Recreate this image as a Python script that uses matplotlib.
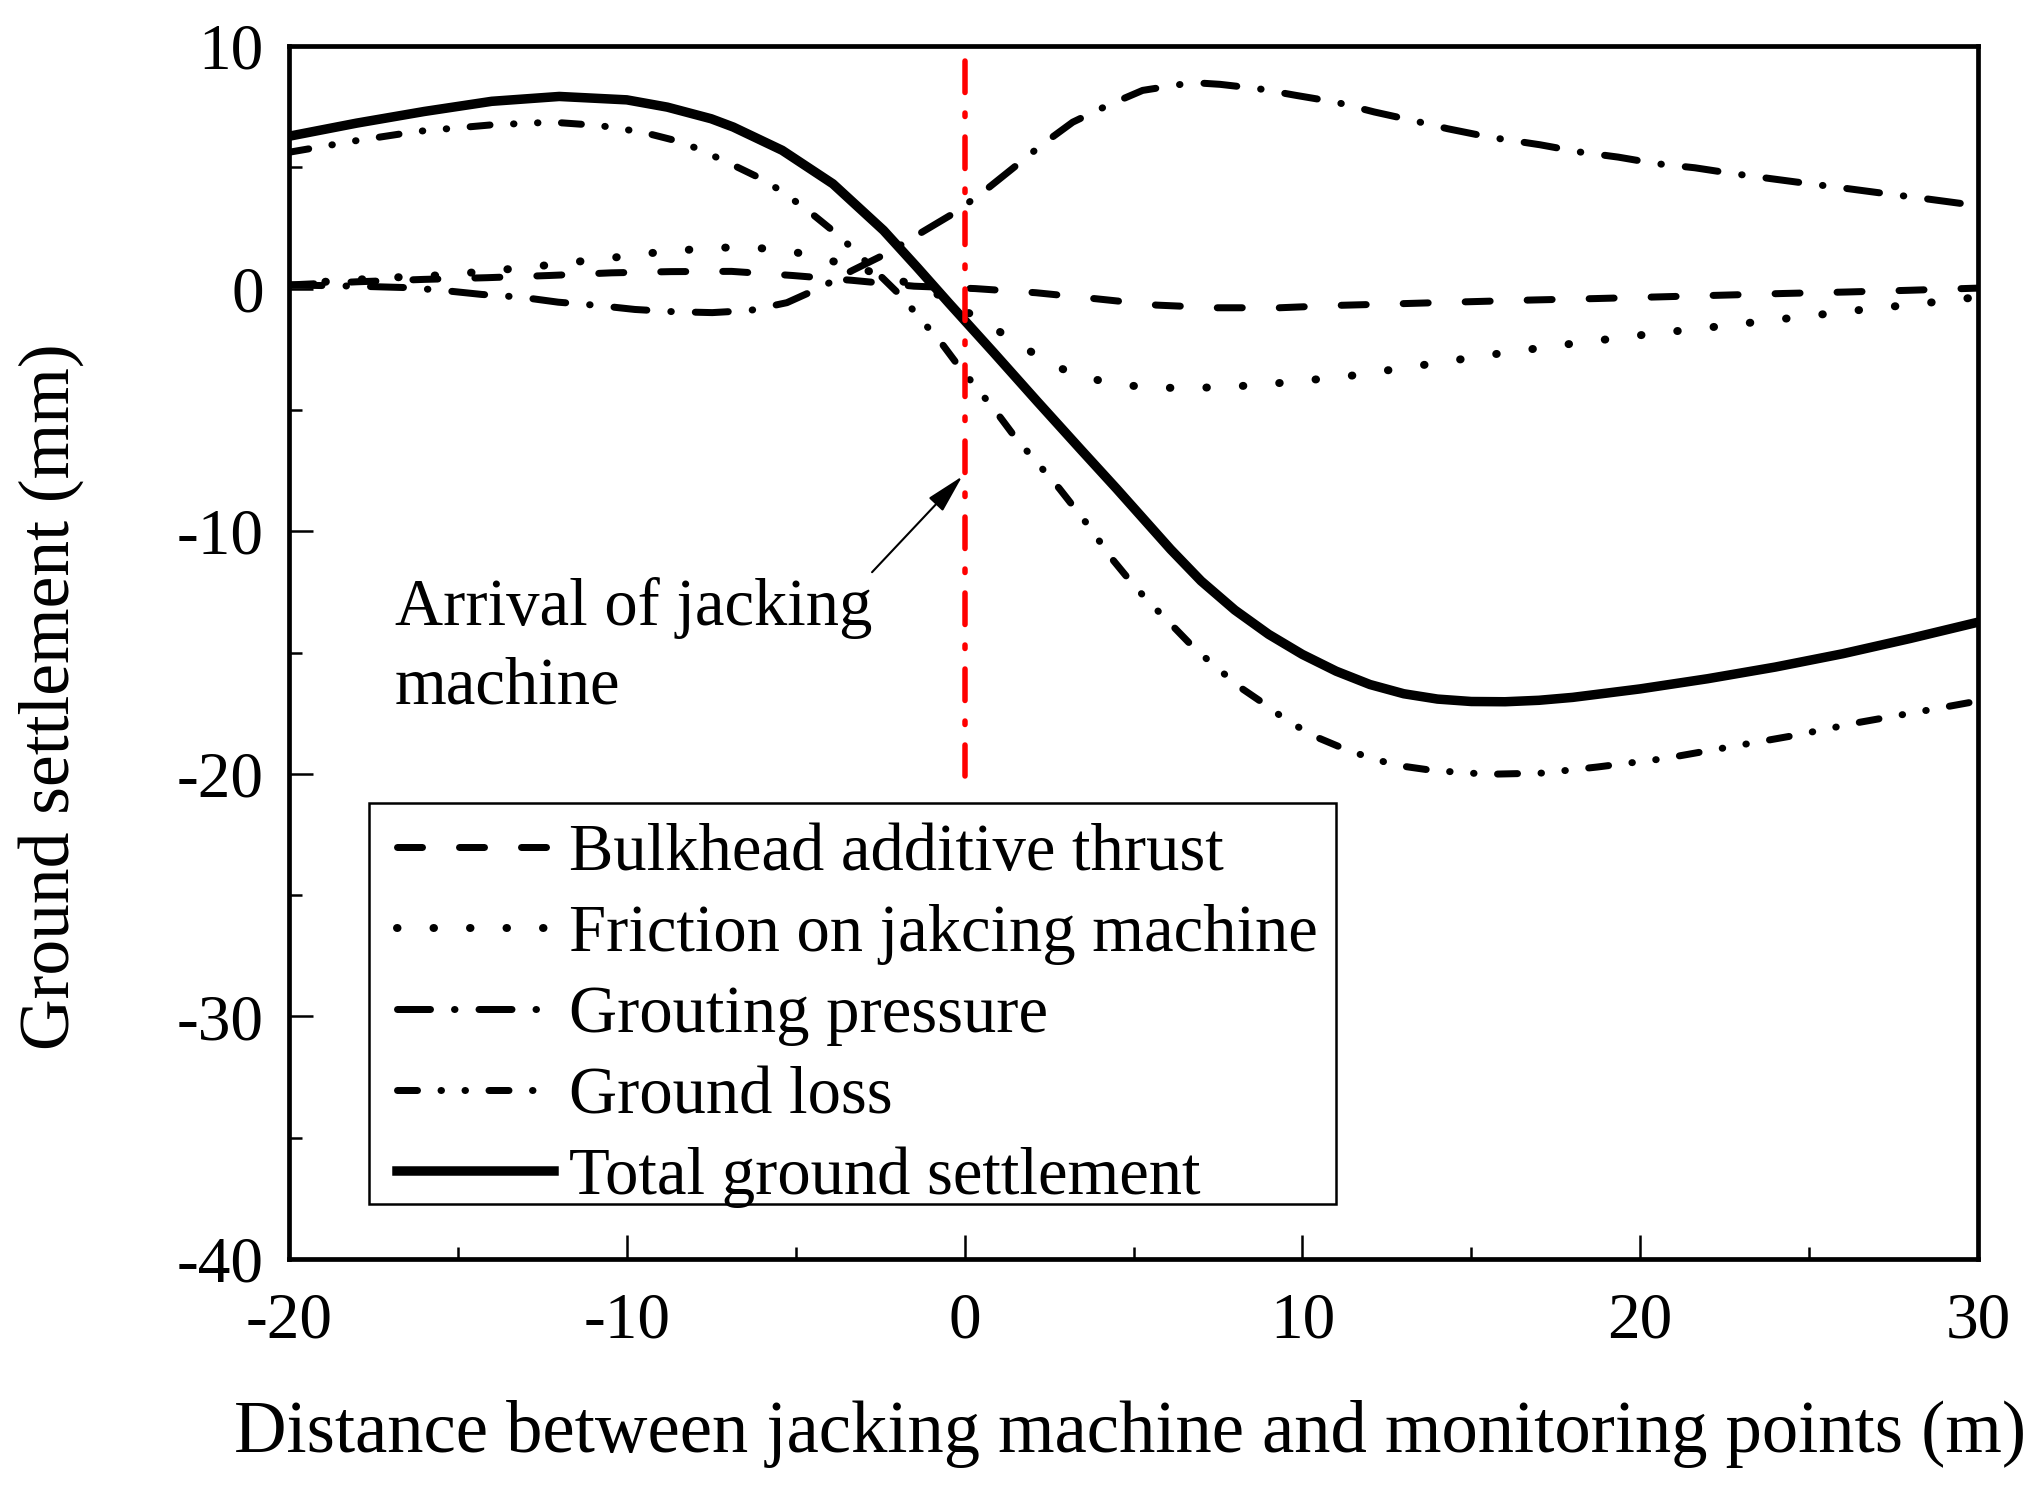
import matplotlib
matplotlib.use('Agg')
import matplotlib.pyplot as plt
from matplotlib.ticker import MultipleLocator
from matplotlib.patches import Rectangle

plt.rcParams['font.family'] = ['Liberation Serif', 'DejaVu Serif']
plt.rcParams['axes.unicode_minus'] = False
plt.rcParams['lines.scale_dashes'] = False

# ---------------- data ----------------
x_bh = [-20, -18, -16, -14.13, -12.3, -10.45, -8.7, -6.9, -5.09, -3.32, -1.5, 0.32, 2.11,
        3.9, 5.68, 7.48, 9.32, 11.09, 12.96, 14.7, 16.8, 18.7, 20.6, 22.45, 24.28, 26.12, 27.95, 30]
y_bh = [0.15, 0.28, 0.38, 0.45, 0.54, 0.65, 0.7, 0.71, 0.54, 0.34, 0.1, 0.0, -0.17,
        -0.42, -0.68, -0.79, -0.79, -0.69, -0.62, -0.55, -0.47, -0.41, -0.34, -0.27, -0.2, -0.14, -0.07, 0.02]

x_fr = [-20, -19.3, -18.25, -17.16, -16.08, -14.99, -13.9, -12.82, -11.73, -10.65, -9.55, -8.46,
        -7.36, -6.27, -5.22, -4.18, -3.15, -2.09, -1.01, 0.83, 1.74, 2.68, 3.72, 4.77, 5.88, 6.94,
        8.05, 9.12, 11.3, 13.48, 15.66, 17.76, 19.94, 22.12, 24.29, 26.45, 28.62, 30]
y_fr = [0.15, 0.25, 0.34, 0.45, 0.5, 0.61, 0.75, 0.89, 1.07, 1.23, 1.43, 1.57,
        1.69, 1.69, 1.57, 1.23, 0.85, 0.41, -0.07, -1.59, -2.41, -3.21, -3.71, -3.99, -4.09, -4.09,
        -4.03, -3.92, -3.62, -3.17, -2.71, -2.31, -1.93, -1.59, -1.24, -0.89, -0.57, -0.35]

x_gp = [-20, -18, -16.5, -15.48, -14.3, -13.15, -12.03, -10.89, -9.76, -8.65, -7.47, -6.35,
        -5.26, -4.27, -3.32, -2.29, -1.34, -0.34, 0.55, 1.41, 2.26, 3.2, 4.23, 5.27, 6.41, 7.0,
        7.56, 8.7, 9.83, 10.98, 12.13, 13.27, 14.3, 15.55, 17.03, 18.21, 19.35, 20.48, 21.62,
        22.75, 23.88, 25.02, 26.15, 27.29, 28.42, 29.55, 30]
y_gp = [0.15, 0.1, 0.04, -0.07, -0.24, -0.35, -0.56, -0.69, -0.86, -0.95, -0.99, -0.9,
        -0.58, 0.04, 0.75, 1.46, 2.26, 3.09, 3.98, 4.94, 5.9, 6.86, 7.55, 8.17, 8.42, 8.47,
        8.42, 8.24, 7.96, 7.69, 7.28, 6.93, 6.59, 6.24, 5.93, 5.63, 5.42, 5.15, 4.98,
        4.74, 4.53, 4.32, 4.12, 3.91, 3.71, 3.5, 3.42]

x_gl = [-20, -18, -16.2, -14, -12.2, -10.8, -9.54, -8.58, -7.9, -6.94, -6.02, -5.38, -4.56,
        -3.79, -3.28, -2.54, -1.8, -1.36, -0.71, -0.19, 0.3, 0.94, 1.53, 2.0, 2.81, 3.62, 4.4,
        4.89, 5.39, 6.08, 6.77, 7.31, 8.15, 8.94, 9.53, 10.42, 11.36, 12.1, 12.79, 13.85, 15.48,
        17.1, 18.73, 20.68, 22.62, 24.57, 26.52, 28.46, 30]
y_gl = [5.62, 6.1, 6.48, 6.75, 6.86, 6.72, 6.45, 6.11, 5.77, 5.15, 4.53, 3.98, 3.13,
        2.26, 1.6, 0.59, -0.42, -1.17, -2.2, -3.17, -3.99, -5.09, -6.19, -6.94, -8.25, -9.69, -11.2,
        -12.03, -12.82, -13.79, -14.78, -15.44, -16.43, -17.18, -17.8, -18.49, -19.04, -19.38, -19.65, -19.86, -20.02,
        -19.97, -19.72, -19.38, -18.9, -18.42, -17.87, -17.39, -17.0]

x_tot = [-20, -18, -16, -14, -12, -10, -8.8, -7.5, -6.85, -5.4, -3.9, -2.4, -1.4, -0.45, 0.85,
         2.15, 3.45, 4.5, 5.3, 6.1, 7.0, 8.0, 9.0, 10.0, 11.0, 12.0, 13.0, 14.0, 15.0, 16.0, 17.0,
         18.0, 20.0, 22.0, 24.0, 26.0, 28.0, 30.0]
y_tot = [6.28, 6.82, 7.3, 7.72, 7.92, 7.78, 7.48, 7.0, 6.66, 5.7, 4.32, 2.4, 0.87, -0.62, -2.62,
         -4.65, -6.65, -8.25, -9.5, -10.75, -12.05, -13.25, -14.25, -15.08, -15.77, -16.32, -16.7,
         -16.92, -17.02, -17.03, -16.97, -16.85, -16.5, -16.08, -15.6, -15.05, -14.42, -13.75]

labels = ['Bulkhead additive thrust', 'Friction on jakcing machine', 'Grouting pressure',
          'Ground loss', 'Total ground settlement']

x_arrival = [0, 0]
y_arrival = [9.4, -20.1]

W, H = 2043, 1487


def px(v):
    return v * 0.72  # pixels -> points at 100 dpi


fig = plt.figure(figsize=(W / 100, H / 100), dpi=100)
ax = fig.add_axes([289 / W, 1 - 1259 / H, (1978 - 289) / W, (1259 - 46) / H])

lw = px(7)
ax.plot(x_bh, y_bh, color='k', lw=lw, dashes=(px(25), px(37)), dash_capstyle='round', label=labels[0])
ax.plot(x_fr, y_fr, color='k', lw=px(8), dashes=(px(0.5), px(36)), dash_capstyle='round', label=labels[1])
ax.plot(x_gp, y_gp, color='k', lw=lw, dashes=(px(33), px(24), px(0.5), px(24)),
        dash_capstyle='round', label=labels[2])
ax.plot(x_gl, y_gl, color='k', lw=lw, dashes=(px(20), px(23.5), px(0.5), px(23.5), px(0.5), px(23.5)),
        dash_capstyle='round', label=labels[3])
ax.plot(x_tot, y_tot, color='k', lw=px(9.5), label=labels[4])

ax.plot(x_arrival, y_arrival, color='red', lw=px(5.5), dashes=(px(31.5), px(20.5), px(3.5), px(20.5)),
        dash_capstyle='round', zorder=5)

ax.set_xlim(-20, 30)
ax.set_ylim(-40, 10)
ax.xaxis.set_major_locator(MultipleLocator(10))
ax.xaxis.set_minor_locator(MultipleLocator(5))
ax.yaxis.set_major_locator(MultipleLocator(10))
ax.yaxis.set_minor_locator(MultipleLocator(5))
ax.tick_params(which='both', direction='in', top=False, right=False, width=1.8)
ax.tick_params(which='major', length=17, labelsize=47)
ax.tick_params(which='minor', length=9)
ax.tick_params(axis='x', which='major', pad=24)
ax.tick_params(axis='y', which='major', pad=18)
for s in ax.spines.values():
    s.set_linewidth(3.4)

ax.text(-16.87, -13.88, 'Arrival of jacking', fontsize=48, ha='left', va='baseline')
ax.text(-16.87, -17.1, 'machine', fontsize=48, ha='left', va='baseline')
ax.annotate('', xy=(-0.07, -7.74), xytext=(-2.74, -11.69),
            arrowprops=dict(arrowstyle='-|>,head_length=0.6,head_width=0.15', lw=1.5, color='k',
                            shrinkA=0, shrinkB=0, mutation_scale=40))

leg = ax.legend(loc='upper left', bbox_to_anchor=(397 / W, 1 - 823 / H), bbox_transform=fig.transFigure,
                fontsize=48, frameon=False, handlelength=2.35, handletextpad=0.23,
                labelspacing=0.3, borderpad=0, borderaxespad=0)
fig.add_artist(Rectangle((369 / W, 1 - 1204 / H), (1336 - 369) / W, (1204 - 803) / H,
                         transform=fig.transFigure, fill=False, lw=1.8, ec='k'))

fig.text(51 / W, 1 - 697 / H, 'Ground settlement (mm)', rotation=90, ha='center', va='center', fontsize=51.5)
fig.text(1130 / W, 1 - 1434 / H, 'Distance between jacking machine and monitoring points (m)',
         ha='center', va='center', fontsize=52.3)

fig.savefig('out.png', dpi=100)
